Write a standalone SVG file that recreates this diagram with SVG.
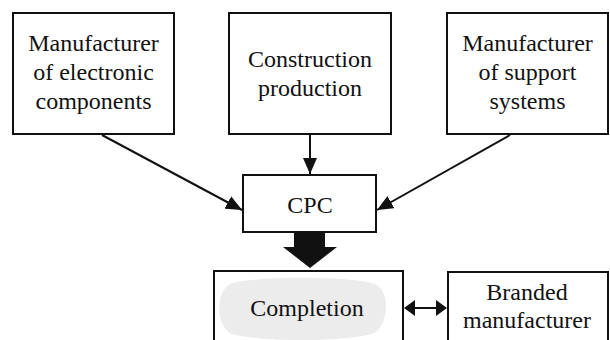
<svg xmlns="http://www.w3.org/2000/svg" width="610" height="340" viewBox="0 0 610 340">
<defs>
<marker id="ah" markerWidth="16" markerHeight="14" viewBox="0 0 16 14" refX="16" refY="7" orient="auto" markerUnits="userSpaceOnUse">
<path d="M0,0 L16,7 L0,14 Z" fill="#111"/>
</marker>
</defs>
<rect width="610" height="340" fill="#fff"/>
<g fill="#fff" stroke="#111" stroke-width="2">
<rect id="b1" x="13" y="13" width="161" height="121"/>
<rect id="b2" x="229" y="13" width="162" height="121"/>
<rect id="b3" x="447" y="13" width="161" height="121"/>
<rect id="b4" x="243" y="175" width="133" height="57"/>
<rect id="b5" x="214" y="271" width="189" height="80"/>
<rect id="b6" x="448" y="272" width="160" height="80"/>
</g>
<path d="M232,283 C260,276 350,276 375,284 C392,292 388,328 372,334 C340,342 260,342 232,334 C215,326 215,290 232,283 Z" fill="#ececec"/>
<g font-family="Liberation Serif" font-size="24" fill="#111" text-anchor="middle">
<g id="n1"><text x="93.5" y="51">Manufacturer</text><text x="93.5" y="80">of electronic</text><text x="93.5" y="109">components</text></g>
<g id="n2"><text x="310" y="67">Construction</text><text x="310" y="96">production</text></g>
<g id="n3"><text x="527.5" y="51">Manufacturer</text><text x="527.5" y="80">of support</text><text x="527.5" y="109">systems</text></g>
<g id="n4"><text x="310" y="213">CPC</text></g>
<g id="n5"><text x="307" y="316">Completion</text></g>
<g id="n6"><text x="527" y="300">Branded</text><text x="527" y="328">manufacturer</text></g>
</g>
<g id="connectors" stroke="#111" stroke-width="2" fill="none">
<line x1="102" y1="135" x2="242" y2="210" marker-end="url(#ah)"/>
<line x1="310" y1="134" x2="310" y2="174" marker-end="url(#ah)"/>
<line x1="510" y1="135" x2="377" y2="210" marker-end="url(#ah)"/>
<line x1="412" y1="308" x2="439" y2="308"/>
</g>
<g fill="#111">
<path d="M294,232 L325,232 L325,247 L337,247 L310,268 L283,247 L294,247 Z"/>
<path d="M404,308 L415,300 L415,316 Z M447,308 L436,300 L436,316 Z"/>
</g>
</svg>
